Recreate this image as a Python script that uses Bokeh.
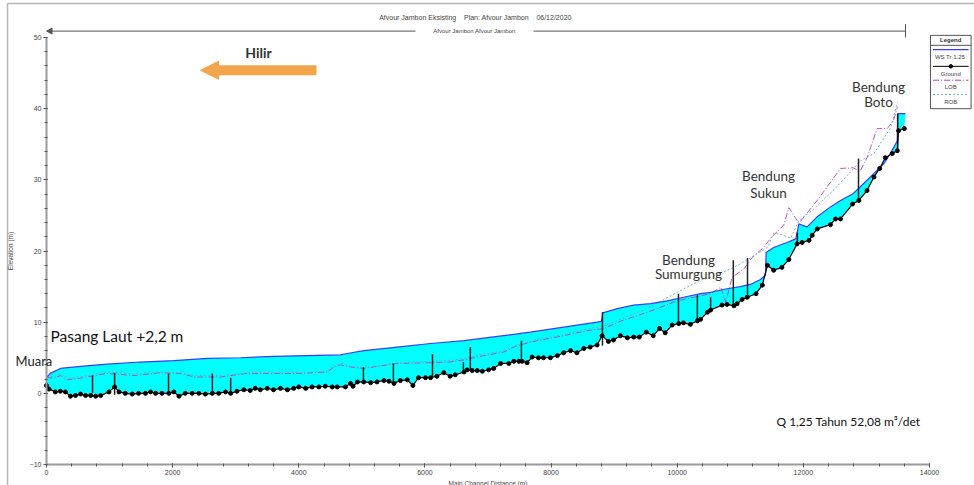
from bokeh.plotting import figure
from bokeh.models import (Range1d, Label, Arrow, NormalHead, FixedTicker)
from bokeh.embed import file_html
from bokeh.resources import INLINE

# ---------------- data ----------------
ground_d = [0, 40, 140, 220, 300, 380, 460, 540, 620, 700, 780, 860, 990, 1080, 1150, 1250, 1360,
            1460, 1570, 1650, 1730, 1830, 1940, 2020, 2100, 2200, 2310, 2415, 2520, 2630, 2730,
            2840, 2920, 3020, 3130, 3230, 3310, 3390, 3500, 3600, 3710, 3820, 3920, 4000, 4110,
            4210, 4320, 4420, 4530, 4610, 4740, 4820, 4860, 4930, 5030, 5140, 5240, 5350, 5430,
            5510, 5610, 5720, 5810, 5900, 6010, 6090, 6190, 6300, 6400, 6480, 6620, 6670, 6750,
            6830, 6910, 7010, 7090, 7200, 7330, 7410, 7490, 7540, 7620, 7700, 7800, 7880, 7990,
            8100, 8200, 8310, 8410, 8520, 8620, 8730, 8810, 8910, 8990, 9100, 9210, 9310, 9400,
            9510, 9620, 9720, 9810, 9920, 10025, 10100, 10210, 10320, 10370, 10480, 10530, 10710,
            10790, 10900, 10950, 11030, 11110, 11250, 11350, 11430, 11530, 11660, 11770, 11900,
            11980, 12090, 12140, 12220, 12430, 12510, 12590, 12780, 12880, 13010, 13120, 13210,
            13300, 13410, 13490, 13510, 13600]
ground_e = [1.1, 0.6, 0.2, 0.3, 0.2, -0.4, -0.3, -0.1, -0.3, -0.3, -0.4, -0.3, 0.2, 0.9, 0.2, 0.0, -0.1,
            0.0, 0.0, 0.2, 0.0, 0.0, 0.0, 0.2, -0.4, 0.0, 0.0, 0.0, -0.1, 0.0, 0.0,
            0.2, 0.0, 0.3, 0.5, 0.4, 0.7, 0.5, 0.7, 0.5, 0.7, 0.5, 0.7, 0.9, 0.7,
            0.9, 0.9, 1.0, 0.9, 0.9, 0.9, 1.4, 1.0, 1.6, 1.6, 1.5, 1.6, 1.8, 1.7,
            1.4, 1.8, 1.9, 1.1, 2.2, 2.2, 2.2, 2.4, 2.9, 2.4, 2.6, 3.0, 3.3, 3.2,
            3.2, 3.1, 3.3, 3.5, 4.2, 4.2, 4.5, 4.5, 4.5, 4.3, 5.1, 5.0, 5.0, 5.0,
            5.3, 5.7, 6.0, 5.7, 6.3, 6.5, 6.8, 8.1, 7.3, 7.5, 8.1, 7.8, 7.9, 7.9,
            8.6, 8.1, 9.1, 8.5, 9.6, 9.8, 9.9, 9.7, 10.2, 10.4, 11.4, 11.7, 12.4,
            12.5, 12.3, 12.6, 13.2, 13.5, 14.0, 15.2, 18.0, 17.3, 17.7, 18.8, 21.0,
            21.2, 21.5, 22.2, 23.1, 23.7, 24.5, 24.5, 26.6, 27.1, 28.5, 30.4, 31.6,
            33.1, 33.7, 34.1, 36.9, 37.2]

ws_d = [0, 60, 220, 540, 960, 1490, 2020, 2550, 3080, 3600, 4130, 4660, 4770, 5030, 5560, 6090,
        6620, 7150, 7670, 8200, 8730, 8800, 8820, 9050, 9310, 9580, 9840, 10100, 10370, 10530,
        10790, 11000, 11160, 11320, 11400, 11410, 11530, 11740, 11880, 11930, 12060, 12220,
        12430, 12590, 12780, 12900, 13120, 13280, 13380, 13490, 13500, 13620]
ws_e = [2.2, 2.8, 3.5, 3.8, 4.1, 4.4, 4.6, 4.9, 5.0, 5.2, 5.3, 5.4, 5.6, 6.0, 6.5, 7.0,
        7.4, 8.0, 8.6, 9.3, 10.0, 10.1, 11.3, 11.9, 12.4, 12.6, 13.0, 13.5, 14.0, 14.2,
        14.7, 15.0, 15.3, 16.0, 16.6, 19.8, 20.5, 21.2, 21.7, 23.8, 23.4, 24.8,
        26.2, 27.1, 28.0, 29.0, 30.9, 32.3, 33.7, 35.5, 39.3, 39.3]

lob_d = [0, 115, 220, 330, 590, 750, 960, 1390, 1810, 2130, 2340, 2760, 3180, 3600, 4030, 4450,
         4560, 4660, 4820, 5030, 5560, 6090, 6400, 6620, 6930, 7250, 7460, 7780, 8200, 8570,
         8830, 9150, 9500, 10000, 10530, 10690, 10770, 10870, 11060, 11190, 11370, 11500,
         11690, 11770, 11930, 12220, 12590, 12790, 12900, 13010, 13170, 13330, 13430, 13490]
lob_e = [2.3, 2.1, 2.5, 1.9, 2.2, 2.5, 2.8, 2.5, 2.9, 2.8, 2.3, 2.3, 2.8, 2.8, 2.8, 3.0,
         3.7, 4.0, 3.7, 3.5, 4.2, 4.3, 4.4, 4.7, 5.3, 5.8, 6.7, 7.4, 8.1, 8.8,
         9.1, 10.3, 11.3, 13.0, 14.0, 14.9, 12.8, 16.3, 17.5, 19.1, 20.5, 22.0,
         23.6, 26.1, 23.9, 27.1, 31.6, 31.7, 31.2, 33.1, 37.2, 37.2, 38.3, 40.2]

rob_d = [0, 110, 230, 340, 600, 760, 970, 1400, 1800, 2120, 2350, 2770, 3190, 3610, 4040, 4440,
         4550, 4670, 4830, 5040, 5570, 6100, 6410, 6610, 6940, 7260, 7470, 7790, 8210, 8580,
         8840, 9150, 9500, 10000, 10370, 10530, 10900, 11270, 11430, 11530, 11660, 11800,
         11930, 12140, 12520, 12910, 13120, 13390, 13490]
rob_e = [2.5, 2.3, 2.7, 2.1, 2.4, 2.7, 3.0, 2.7, 3.0, 2.9, 2.5, 2.5, 2.9, 2.9, 2.9, 3.1,
         3.9, 4.2, 3.8, 3.6, 4.3, 4.5, 4.6, 4.9, 5.5, 6.0, 6.8, 7.6, 8.3, 9.0,
         9.5, 10.6, 11.8, 14.2, 15.9, 16.3, 17.7, 19.6, 20.5, 22.5, 22.3, 21.8,
         24.3, 25.7, 28.9, 32.7, 33.7, 37.4, 40.9]

struct_d = [730, 1080, 1935, 2630, 2920, 5025, 5500, 6120, 6610, 6720, 7530, 8815, 10020,
            10320, 10530, 10890, 11115, 11905, 12875, 13495]
struct_bot = [0.0, -0.2, 0.0, 0.0, 0.0, 1.5, 1.6, 2.3, 3.0, 3.2, 4.4, 6.7, 9.8,
              10.2, 11.5, 12.3, 13.3, 21.0, 27.1, 34.1]
struct_top = [2.5, 2.9, 2.8, 2.8, 2.2, 3.7, 4.2, 5.5, 4.4, 6.5, 7.4, 11.4, 14.0,
              13.8, 13.5, 18.7, 19.0, 22.6, 33.0, 39.3]

x_ticks = [0, 2000, 4000, 6000, 8000, 10000, 12000, 14000]
y_ticks = [-10, 0, 10, 20, 30, 40, 50]

legend_names = ["WS  Tr 1.25", "Ground", "LOB", "ROB"]

# ---------------- styling ----------------
FONT = "Liberation Sans"
TFONT = "Lato"
C_WS = "#3b3bff"
C_FILL = "#00ffff"
C_LOB = "#c23cc2"
C_ROB = "#5fb3b3"
ORANGE = "#f2a54a"
NB = "\u00a0"
X0, X1 = -729.3, 14714
Y0, Y1 = -12.95, 55.2

p = figure(width=974, height=485, output_backend="svg", toolbar_location=None,
           title=None, x_range=Range1d(X0, X1), y_range=Range1d(Y0, Y1),
           min_border_left=0, min_border_right=0, min_border_top=0, min_border_bottom=0)
p.outline_line_color = None
p.grid.visible = False
p.background_fill_color = "white"
p.border_fill_color = "white"

# window frame lines
p.segment(x0=[-618, -618], y0=[Y0, 54.78], x1=[-618, X1], y1=[54.78, 54.78],
          line_color="#b5b5b5", line_width=1.5)

# axes (drawn at fixed data positions inside the frame)
p.xaxis.fixed_location = y_ticks[0]
p.yaxis.fixed_location = x_ticks[0]
p.xaxis.ticker = FixedTicker(ticks=x_ticks, minor_ticks=list(range(0, 14001, 400)))
p.yaxis.ticker = FixedTicker(ticks=y_ticks, minor_ticks=list(range(-10, 51, 2)))
p.xaxis.bounds = (x_ticks[0], x_ticks[-1])
p.yaxis.bounds = (y_ticks[0], y_ticks[-1])
for ax in (p.xaxis[0], p.yaxis[0]):
    ax.axis_line_color = "#9a9a9a"
    ax.axis_line_width = 2
    ax.major_tick_line_color = "#555555"
    ax.minor_tick_line_color = "#555555"
    ax.major_tick_out = 3
    ax.major_tick_in = 1
    ax.minor_tick_out = 2
    ax.minor_tick_in = 1
    ax.major_label_text_font = FONT
    ax.major_label_text_font_size = "7px"
    ax.major_label_text_color = "#444444"
    ax.axis_label_text_font = FONT
    ax.axis_label_text_font_size = "6.5px"
    ax.axis_label_text_font_style = "normal"
    ax.axis_label_text_color = "#444444"
p.xaxis.axis_label = "Main Channel Distance (m)"
p.yaxis.axis_label = "Elevation (m)"
p.xaxis.major_label_standoff = 2
p.xaxis.axis_label_standoff = 2
p.yaxis.major_label_standoff = 2
p.yaxis.axis_label_standoff = 13

# water fill between ground and water surface
p.patch(x=ws_d + ground_d[::-1], y=ws_e + ground_e[::-1], fill_color=C_FILL,
        line_color=None)
# bank lines
p.line(lob_d, lob_e, line_color=C_LOB, line_width=0.9, line_dash="6 2 1 2")
p.line(rob_d, rob_e, line_color=C_ROB, line_width=0.9, line_dash="2 2")
# water surface
p.line(ws_d, ws_e, line_color=C_WS, line_width=1.2)
# structures
p.segment(x0=struct_d, y0=struct_bot, x1=struct_d, y1=struct_top, line_color="#222222",
          line_width=1.5)
# ground
p.line(ground_d, ground_e, line_color="black", line_width=1.2)
p.scatter(ground_d, ground_e, size=4, color="black")

# ---------------- header (title + reach line) ----------------
title_txt = NB.join(["Afvour Jambon Eksisting", "", "", "", "Plan: Afvour Jambon", "", "", "",
                     "06/12/2020"])
p.add_layout(Label(x=6802, y=52.8, text=title_txt,
                   text_font=FONT, text_font_size="7px", text_color="#444444",
                   text_align="center", text_baseline="middle"))
p.segment(x0=[0, 7722], y0=[50.9, 50.9], x1=[5851, 13620], y1=[50.9, 50.9],
          line_color="#555555", line_width=1)
p.segment(x0=[13620], y0=[51.9], x1=[13620], y1=[50.0], line_color="#555555", line_width=1)
p.scatter(x=[60], y=[50.9], marker="triangle", angle=1.5708, size=6, color="#555555")
p.add_layout(Label(x=6786, y=50.9, text="Afvour Jambon Afvour Jambon", text_font=FONT,
                   text_font_size="6px", text_color="#444444", text_align="center",
                   text_baseline="middle"))

# ---------------- annotations ----------------
p.add_layout(Arrow(end=NormalHead(size=18, fill_color=ORANGE, line_color=ORANGE),
                   x_start=4281, y_start=45.4, x_end=2442, y_end=45.4,
                   line_color=ORANGE, line_width=10))
p.add_layout(Label(x=3361, y=47.9, text="Hilir", text_font=TFONT, text_font_size="14px",
                   text_font_style="bold", text_color="#333333", text_align="center",
                   text_baseline="middle"))
p.add_layout(Label(x=-492, y=4.6, text="Muara", text_font=TFONT, text_font_size="13px",
                   text_color="#222222", text_align="left", text_baseline="middle"))
p.add_layout(Label(x=63, y=8.0, text="Pasang Laut +2,2 m", text_font=TFONT,
                   text_font_size="15.5px", text_color="#111111", text_align="left",
                   text_baseline="middle"))
for xx, yy, tt in [(10179, 18.8, "Bendung"), (10179, 16.7, "Sumurgung"),
                   (11448, 30.5, "Bendung"), (11448, 28.2, "Sukun"),
                   (13192, 43.0, "Bendung"), (13192, 40.9, "Boto")]:
    p.add_layout(Label(x=xx, y=yy, text=tt, text_font=TFONT, text_font_size="13.5px",
                       text_color="#333333", text_align="center", text_baseline="middle"))
p.add_layout(Label(x=11574, y=-3.9, text="Q 1,25 Tahun 52,08 m³/det", text_font=TFONT,
                   text_font_size="12px", text_color="#111111", text_align="left",
                   text_baseline="middle"))

# ---------------- legend box (HEC-RAS style) ----------------
LX0, LX1, LXC = 14016, 14660, 14338
p.quad(left=[LX0], right=[LX1], top=[50.3], bottom=[40.0], fill_color="white",
       line_color="#555555", line_width=1)
p.segment(x0=[LX0], y0=[48.9], x1=[LX1], y1=[48.9], line_color="#555555", line_width=1)
p.add_layout(Label(x=LXC, y=49.6, text="Legend", text_font=FONT, text_font_size="6px",
                   text_font_style="bold", text_color="#333333", text_align="center",
                   text_baseline="middle"))
p.segment(x0=[LX0 + 40], y0=[48.3], x1=[LX1 - 40], y1=[48.3], line_color=C_WS, line_width=1.2)
p.segment(x0=[LX0 + 40], y0=[45.95], x1=[LX1 - 40], y1=[45.95], line_color="black", line_width=1)
p.scatter(x=[LXC], y=[45.95], size=3.5, color="black")
p.segment(x0=[LX0 + 40], y0=[44.0], x1=[LX1 - 40], y1=[44.0], line_color=C_LOB,
          line_width=1, line_dash="6 2 1 2")
p.segment(x0=[LX0 + 40], y0=[42.0], x1=[LX1 - 40], y1=[42.0], line_color=C_ROB,
          line_width=1, line_dash="2 2")
for yy, nm in zip([47.2, 44.9, 43.0, 41.0], legend_names):
    p.add_layout(Label(x=LXC, y=yy, text=nm, text_font=FONT, text_font_size="6px",
                       text_color="#444444", text_align="center", text_baseline="middle"))

open("out.html", "w").write(file_html(p, INLINE))
